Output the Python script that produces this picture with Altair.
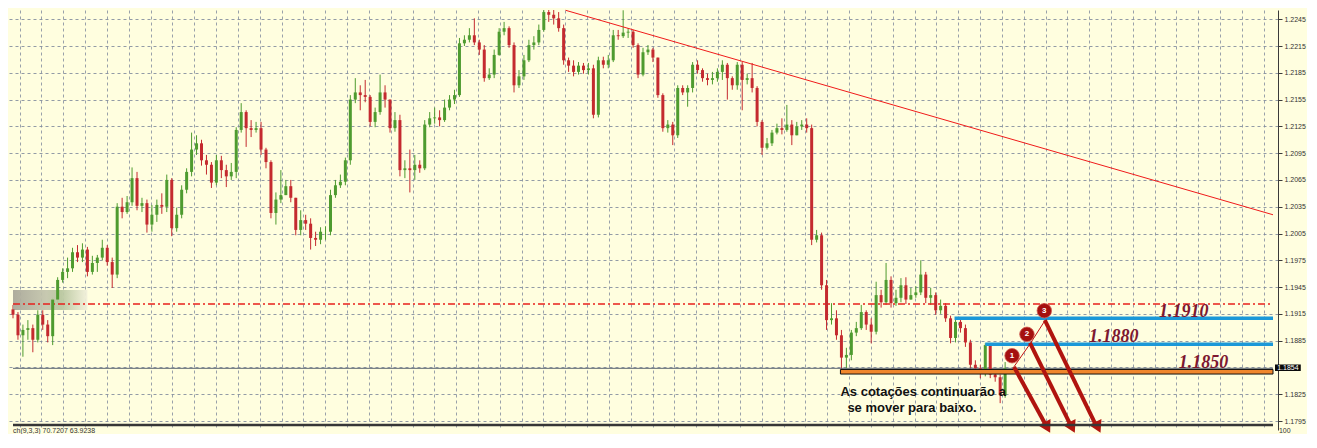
import altair as alt
import pandas as pd

# ---------------- data (prices expressed as pips above 1.1795) ----------------
BASE = 1.1795
PIP = 0.0001

open_first_pips = 125
close_pips = [
    119, 96, 102, 104, 91, 119, 108, 95, 136, 158,
    167, 171, 189, 183, 192, 167, 177, 183, 194, 178,
    164, 240, 234, 245, 272, 241, 244, 220, 231, 242,
    240, 270, 216, 231, 259, 279, 304, 311, 292, 287,
    267, 292, 281, 274, 279, 326, 346, 328, 326, 328,
    304, 290, 233, 248, 253, 263, 250, 214, 225, 221,
    205, 203, 212, 212, 253, 264, 268, 292, 360, 368,
    365, 363, 335, 346, 368, 360, 328, 337, 281, 283,
    281, 287, 283, 332, 339, 340, 337, 351, 360, 365,
    423, 427, 432, 424, 416, 384, 388, 410, 436, 440,
    421, 376, 386, 404, 421, 424, 438, 458, 455, 451,
    440, 404, 398, 391, 398, 393, 395, 343, 404, 399,
    404, 432, 431, 435, 436, 421, 388, 413, 416, 407,
    365, 328, 332, 320, 373, 368, 373, 399, 393, 384,
    382, 384, 391, 399, 384, 376, 399, 382, 384, 373,
    335, 306, 311, 323, 328, 326, 332, 320, 330, 332,
    328, 203, 208, 152, 113, 115, 96, 71, 74, 99,
    104, 122, 108, 100, 141, 133, 158, 132, 138, 152,
    136, 141, 144, 164, 138, 141, 124, 129, 115, 93,
    111, 104, 88, 63, 59, 55, 85, 52, 49, 29,
    59,
]
high_pips = [
    130, 122, 108, 113, 108, 124, 124, 113, 138, 161,
    171, 183, 194, 197, 199, 195, 185, 186, 203, 197,
    183, 244, 250, 252, 284, 279, 250, 248, 242, 248,
    255, 276, 272, 239, 264, 283, 323, 320, 315, 298,
    290, 298, 297, 287, 289, 329, 356, 348, 337, 335,
    335, 306, 292, 256, 281, 270, 270, 250, 236, 231,
    227, 212, 217, 218, 259, 270, 276, 295, 365, 384,
    376, 382, 365, 351, 388, 376, 360, 346, 343, 292,
    304, 298, 292, 337, 346, 351, 348, 360, 365, 371,
    429, 432, 440, 451, 427, 421, 395, 416, 440, 447,
    442, 424, 393, 410, 427, 431, 444, 465, 465, 465,
    458, 444, 407, 404, 402, 401, 401, 399, 408, 408,
    410, 438, 438, 460, 440, 438, 423, 418, 421, 418,
    407, 367, 337, 335, 376, 376, 376, 402, 404, 395,
    389, 391, 395, 404, 401, 386, 402, 402, 389, 401,
    375, 337, 317, 326, 333, 339, 354, 337, 335, 337,
    339, 332, 214, 211, 158, 132, 124, 102, 82, 102,
    111, 130, 124, 115, 156, 147, 177, 162, 147, 160,
    161, 149, 151, 180, 167, 149, 144, 136, 132, 118,
    115, 115, 108, 91, 68, 63, 87, 85, 57, 52,
    66,
]
low_pips = [
    115, 91, 72, 91, 77, 88, 102, 88, 85, 132,
    155, 160, 167, 178, 178, 162, 164, 167, 180, 174,
    149, 160, 227, 232, 241, 236, 234, 211, 212, 223,
    232, 234, 207, 212, 227, 255, 274, 298, 286, 276,
    261, 264, 272, 262, 270, 272, 323, 307, 318, 323,
    298, 283, 227, 220, 244, 256, 245, 208, 208, 214,
    192, 196, 198, 203, 208, 250, 261, 264, 287, 356,
    348, 357, 330, 329, 343, 351, 323, 324, 274, 272,
    256, 270, 278, 281, 329, 333, 330, 335, 348, 355,
    363, 420, 424, 421, 410, 380, 382, 384, 409, 432,
    418, 368, 373, 382, 402, 416, 421, 436, 447, 444,
    436, 399, 391, 386, 388, 389, 388, 339, 340, 395,
    395, 402, 427, 429, 429, 418, 384, 386, 410, 402,
    362, 324, 323, 309, 317, 365, 352, 368, 389, 380,
    376, 377, 380, 382, 360, 371, 371, 348, 377, 368,
    330, 298, 304, 308, 321, 321, 324, 309, 324, 326,
    323, 197, 200, 147, 102, 108, 91, 57, 59, 68,
    95, 102, 102, 87, 97, 127, 130, 127, 129, 133,
    131, 136, 138, 141, 132, 130, 119, 120, 111, 87,
    88, 99, 83, 57, 53, 48, 50, 48, 44, 20,
    26,
]

y_tick_values = [1.2245, 1.2215, 1.2185, 1.2155, 1.2125, 1.2095, 1.2065, 1.2035,
                 1.2005, 1.1975, 1.1945, 1.1915, 1.1885, 1.1855, 1.1825, 1.1795]

# horizontal levels
level_names = ["1.1910", "1.1880"]
level_prices = [1.1910, 1.1881]
level_start = [189.8, 196.0]
support_price_top = 1.18527
support_price_bottom = 1.18476
support_start = 166.8
resist_dashdot_price = 1.1926
current_price = 1.1854

# trend line
trend_idx = [111.4, 254.0]
trend_price = [1.2255, 1.2026]

# level labels
label_texts = ["1.1910", "1.1880", "1.1850"]
label_idx = [236.0, 221.9, 240.0]
label_price = [1.19174, 1.18894, 1.18596]

# numbered circles
circle_labels = ["1", "2", "3"]
circle_idx = [201.4, 204.4, 207.9]
circle_price = [1.18681, 1.18921, 1.19185]

# zigzag
zig_idx = [201.7, 205.1, 208.1]
zig_price = [1.18551, 1.18820, 1.19081]

# arrows
arrow_start_idx = [201.8, 205.0, 208.0]
arrow_start_price = [1.18555, 1.18824, 1.19081]
arrow_end_idx = [208.2, 213.2, 218.3]
arrow_end_price = [1.17905, 1.17905, 1.17905]
arrow_head_idx = [208.5, 213.5, 218.7]
arrow_head_price = [1.17878, 1.17878, 1.17878]
arrow_angle = [151.3, 153.4, 153.8]

note_lines = ["As cotações continuarão a", "se mover para baixo."]
note_idx = [166.8, 168.2]
note_price = [1.18275, 1.18096]

X_MAX = 254.0
Y_MIN, Y_MAX = 1.178492, 1.225532

# ---------------- build candle table ----------------
rows = []
prev = open_first_pips
for i, c in enumerate(close_pips):
    rows.append(dict(
        idx=i,
        open=BASE + prev * PIP,
        close=BASE + c * PIP,
        high=BASE + max(high_pips[i], prev, c) * PIP,
        low=BASE + min(low_pips[i], prev, c) * PIP,
        dir="up" if c >= prev else "down",
    ))
    prev = c
candles = pd.DataFrame(rows)

xs = alt.Scale(domain=[0, X_MAX], nice=False, zero=False)
ys = alt.Scale(domain=[Y_MIN, Y_MAX], nice=False, zero=False)
grid_x = [1.34 + 4.4 * k for k in range(58)]

GRID = "#7f8a9c"
x_axis = alt.Axis(values=grid_x, grid=True, labels=False, ticks=False, domain=False,
                  title=None, gridDash=[3, 3], gridColor=GRID, gridOpacity=0.8)
y_axis = alt.Axis(orient="right", values=y_tick_values, grid=True,
                  labelExpr="(datum.value > 1.1850 && datum.value < 1.1860) ? '' : format(datum.value, '.4f')",
                  gridDash=[3, 3], gridColor=GRID, gridOpacity=0.85, title=None,
                  domainColor="#3a3a3a", tickColor="#3a3a3a", tickSize=4,
                  labelFont="Liberation Sans", labelFontSize=7, labelColor="#333333",
                  labelPadding=2)


def X(f):
    return alt.X(f, type="quantitative", scale=xs, axis=x_axis)


def Y(f):
    return alt.Y(f, type="quantitative", scale=ys, axis=y_axis)


col = alt.Color("dir:N", scale=alt.Scale(domain=["up", "down"], range=["#4e9b2f", "#c42a2f"]),
                legend=None)

wicks = alt.Chart(candles).mark_rule(strokeWidth=1, clip=True).encode(
    x=X("idx"), y=Y("low"), y2="high", color=col)
bodies = alt.Chart(candles).mark_bar(size=3, clip=True).encode(
    x=X("idx"), y=Y("open"), y2="close", color=col)

# blurred box
blur_df = pd.DataFrame({"x": [0.0], "x2": [15.0], "y": [1.19417], "y2": [1.19193]})
blur = alt.Chart(blur_df).mark_rect(
    color={"gradient": "linear", "x1": 0, "x2": 1, "y1": 0, "y2": 0,
           "stops": [{"offset": 0, "color": "#aaa89a"},
                     {"offset": 0.45, "color": "#c4c6ae"},
                     {"offset": 0.65, "color": "#b9c7a0"},
                     {"offset": 1, "color": "#f3f1dc"}]},
    opacity=0.95).encode(x=X("x"), x2="x2", y=Y("y"), y2="y2")

dd_df = pd.DataFrame({"x": [0.0], "x2": [X_MAX], "y": [resist_dashdot_price]})
dashdot = alt.Chart(dd_df).mark_rule(color="#e8201c", strokeWidth=1.5,
                                     strokeDash=[7, 3, 2, 3]).encode(
    x=X("x"), x2="x2", y=Y("y"))

pl_df = pd.DataFrame({"x": [0.0], "x2": [X_MAX], "y": [current_price]})
priceline = alt.Chart(pl_df).mark_rule(color="#5d6672", strokeWidth=1).encode(
    x=X("x"), x2="x2", y=Y("y"))

tr_df = pd.DataFrame({"x": trend_idx, "y": trend_price})
trend = alt.Chart(tr_df).mark_line(color="#f01a1a", strokeWidth=1).encode(
    x=X("x"), y=Y("y"))

lv_df = pd.DataFrame({"x": level_start, "x2": [X_MAX] * 2, "y": level_prices, "n": level_names})
levels = alt.Chart(lv_df).mark_rule(color="#1b98d8", strokeWidth=3.5).encode(
    x=X("x"), x2="x2", y=Y("y"))

sp_df = pd.DataFrame({"x": [support_start], "x2": [X_MAX],
                      "y": [support_price_top], "y2": [support_price_bottom]})
support = alt.Chart(sp_df).mark_rect(fill="#f0862c", stroke="#111111", strokeWidth=1).encode(
    x=X("x"), x2="x2", y=Y("y"), y2="y2")

lb_df = pd.DataFrame({"x": label_idx, "y": label_price, "t": label_texts})
labels = alt.Chart(lb_df).mark_text(font="Liberation Serif", fontSize=18, fontWeight="bold",
                                    fontStyle="italic", color="#7d1830",
                                    align="center", baseline="middle").encode(
    x=X("x"), y=Y("y"), text="t:N")

zz_df = pd.DataFrame({"x": zig_idx, "y": zig_price})
zig = alt.Chart(zz_df).mark_line(color="#c01212", strokeWidth=1).encode(x=X("x"), y=Y("y"))

ar_df = pd.DataFrame({"x": arrow_start_idx, "y": arrow_start_price,
                      "x2": arrow_end_idx, "y2": arrow_end_price})
arrows = alt.Chart(ar_df).mark_rule(color="#b0140e", strokeWidth=4).encode(
    x=X("x"), y=Y("y"), x2="x2", y2="y2")
ah_df = pd.DataFrame({"x": arrow_head_idx, "y": arrow_head_price, "a": arrow_angle})
heads = alt.Chart(ah_df).mark_point(shape="triangle-up", size=190, filled=True,
                                    color="#b0140e", opacity=1).encode(
    x=X("x"), y=Y("y"), angle=alt.Angle("a:Q", scale=None))

ci_df = pd.DataFrame({"x": circle_idx, "y": circle_price, "t": circle_labels})
circles = alt.Chart(ci_df).mark_point(shape="circle", size=210, filled=True, color="#a5100f",
                                      stroke="#cf5a50", strokeWidth=0.8, opacity=1).encode(
    x=X("x"), y=Y("y"))
circle_txt = alt.Chart(ci_df).mark_text(fontSize=8, fontWeight="bold", color="white",
                                        font="Liberation Sans", baseline="middle").encode(
    x=X("x"), y=Y("y"), text="t:N")

nt_df = pd.DataFrame({"x": note_idx, "y": note_price, "t": note_lines})
note = alt.Chart(nt_df).mark_text(font="Liberation Sans", fontSize=13, fontWeight="bold",
                                  color="#111111", align="left", baseline="middle").encode(
    x=X("x"), y=Y("y"), text="t:N")

bl_df = pd.DataFrame({"x": [0.0], "x2": [X_MAX], "y": [1.17905]})
bottom_line = alt.Chart(bl_df).mark_rule(color="#363636", strokeWidth=2.5).encode(
    x=X("x"), x2="x2", y=Y("y"))

# current-price tag on the price axis
tag_df = pd.DataFrame({"x": [254.4], "x2": [259.6], "y": [1.18583], "y2": [1.18510]})
tag = alt.Chart(tag_df).mark_rect(color="#0a0a0a").encode(x=X("x"), x2="x2", y=Y("y"), y2="y2")
tag_txt_df = pd.DataFrame({"x": [257.0], "y": [1.18546], "t": ["1.1854"]})
tag_txt = alt.Chart(tag_txt_df).mark_text(font="Liberation Sans", fontSize=7, color="white",
                                          baseline="middle").encode(
    x=X("x"), y=Y("y"), text="t:N")

sub_df = pd.DataFrame({"x": [0.0, 255.2], "y": [1.17834, 1.17840],
                       "t": ["ch(9,3,3) 70.7207 63.9238", "100"]})
sub_txt = alt.Chart(sub_df).mark_text(font="Liberation Sans", fontSize=7, color="#333333",
                                      align="left", baseline="middle").encode(
    x=X("x"), y=Y("y"), text="t:N")

chart = alt.layer(
    wicks, blur, dashdot, priceline, trend, bodies, levels, support, labels,
    zig, arrows, heads, circles, circle_txt, note, bottom_line, tag, tag_txt, sub_txt,
).properties(
    width=1270, height=420,
    padding={"left": 0, "top": 2, "right": 29, "bottom": 4},
    autosize=alt.AutoSizeParams(type="none"),
    background="#FFFEDF",
).configure_view(stroke="transparent", fill="#FFFEDF")

chart.save("out.html", embed_options={"renderer": "svg", "actions": False})
